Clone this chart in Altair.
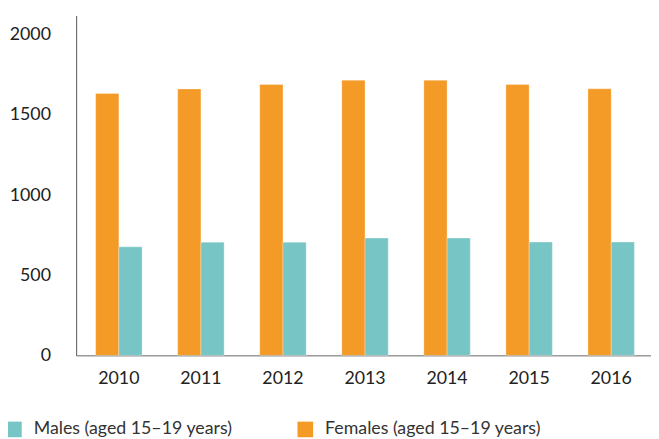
import altair as alt
import pandas as pd

years = ["2010", "2011", "2012", "2013", "2014", "2015", "2016"]
males = [677, 706, 706, 732, 732, 707, 707]
females = [1634, 1662, 1690, 1717, 1717, 1690, 1663]
series = ["Males (aged 15–19 years)", "Females (aged 15–19 years)"]
colors = ["#77C6C5", "#F39A27"]
y_ticks = [0, 500, 1000, 1500, 2000]

rows = []
for i, y in enumerate(years):
    rows.append({"year": y, "series": series[1], "value": females[i]})
    rows.append({"year": y, "series": series[0], "value": males[i]})
df = pd.DataFrame(rows)

FONT = "Lato"

chart = alt.Chart(df).mark_bar(stroke="white", strokeWidth=0.6, strokeOpacity=0.5).encode(
    x=alt.X("year:N", sort=years, title=None,
            scale=alt.Scale(paddingInner=0.434, paddingOuter=0.22, align=0.54),
            axis=alt.Axis(labelAngle=0, ticks=False, labelPadding=15, labelFontSize=18,
                          labelFont=FONT, labelColor="#222222", domainColor="#666666",
                          domainWidth=1)),
    xOffset=alt.XOffset("series:N", sort=[series[1], series[0]],
                        scale=alt.Scale(paddingInner=0, paddingOuter=0)),
    y=alt.Y("value:Q", title=None,
            scale=alt.Scale(domain=[0, 2120], nice=False),
            axis=alt.Axis(values=y_ticks, format="d", ticks=False, grid=False, labelPadding=26,
                          labelFontSize=18, labelFont=FONT, labelColor="#222222",
                          domainColor="#555555", domainWidth=1)),
    color=alt.Color("series:N", scale=alt.Scale(domain=series, range=colors),
                    legend=alt.Legend(title=None, orient="none", legendX=-72, legendY=410,
                                      direction="horizontal", columns=2, columnPadding=64,
                                      symbolType="square", symbolSize=250, symbolStrokeWidth=0,
                                      symbolOpacity=1, labelOffset=11, labelLimit=500,
                                      labelFontSize=18, labelFont=FONT, labelColor="#333333")),
).properties(
    width=582, height=344,
    padding={"left": 69, "top": 5, "right": 0, "bottom": 82},
    autosize=alt.AutoSizeParams(type="none"),
).configure_view(stroke=None)

chart.save("out.html", embed_options={"renderer": "svg", "actions": False})
